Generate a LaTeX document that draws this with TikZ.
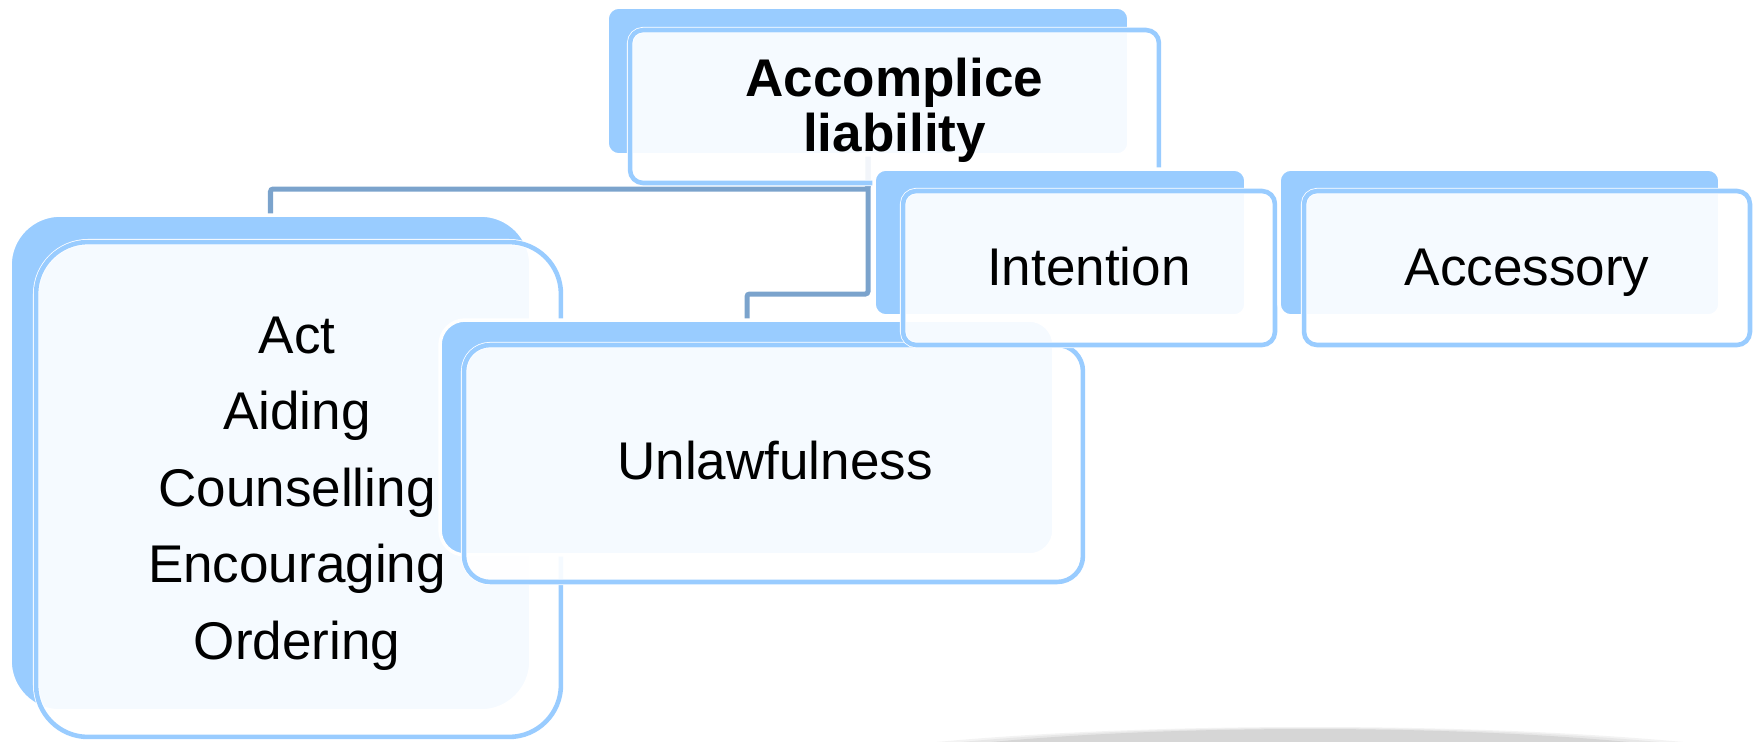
\documentclass[tikz,border=0pt]{standalone}
\usepackage{fontspec}
\setmainfont{Liberation Sans}
\definecolor{bblue}{HTML}{99CCFF}
\definecolor{conncol}{HTML}{7BA3CC}
\definecolor{shadowgray}{HTML}{D6D6D6}
\pgfdeclarelayer{bg}
\pgfsetlayers{bg,main}
\begin{document}
\begin{tikzpicture}[x=0.02cm,y=-0.02cm,
  backbox/.style={fill=bblue, draw=white, line width=2pt, inner sep=0, outer sep=0},
  frontbox/.style={fill=white, fill opacity=0.9, draw=white, line width=0.45pt, double=bblue, double distance=2.6pt, inner sep=0, outer sep=0},
  conn/.style={draw=conncol, line width=2.85pt, rounded corners=1.5pt},
  lbl/.style={font=\fontsize{30.2pt}{43.5pt}\selectfont, inner sep=0, align=center, text=black, text opacity=1}]
\useasboundingbox (0,0) rectangle (1755,741);
% Accomplice liability
\node[backbox, rounded corners=6.8pt, minimum width=10.44cm, minimum height=2.96cm] (accB) at (868,81) {};
\node[frontbox, rounded corners=7.4pt, minimum width=10.58cm, minimum height=3.06cm] (acc) at (894.5,106.5) {};
% Act
\node[backbox, rounded corners=28.5pt, minimum width=10.42cm, minimum height=9.92cm] (actB) at (270.5,463) {};
\node[frontbox, rounded corners=29.6pt, minimum width=10.5cm, minimum height=9.9cm] (act) at (298.5,489.5) {};
% Unlawfulness
\node[backbox, rounded corners=14.2pt, minimum width=12.28cm, minimum height=4.7cm] (unlB) at (747,437.5) {};
\node[frontbox, rounded corners=14.8pt, minimum width=12.38cm, minimum height=4.74cm] (unl) at (773.5,463.5) {};
% Intention
\node[backbox, rounded corners=6.8pt, minimum width=7.44cm, minimum height=2.94cm] (intB) at (1060,242.5) {};
\node[frontbox, rounded corners=7.4pt, minimum width=7.44cm, minimum height=3.08cm] (int) at (1089,268) {};
% Accessory
\node[backbox, rounded corners=6.8pt, minimum width=8.82cm, minimum height=2.94cm] (acsB) at (1499.5,242.5) {};
\node[frontbox, rounded corners=7.4pt, minimum width=8.92cm, minimum height=3.08cm] (acs) at (1527,268) {};
% texts
\node[lbl, font=\bfseries\fontsize{30.2pt}{31.3pt}\selectfont, anchor=north] (accT) at (894.5,58) {Accomplice\\liability};
\node[lbl, anchor=north] (actT) at (297,316.5) {Act\\Aiding\\Counselling\\Encouraging\\Ordering};
\node[lbl, anchor=base] (unlT) at (775,479) {Unlawfulness};
\node[lbl, anchor=base] (intT) at (1089,285) {Intention};
\node[lbl, anchor=base] (acsT) at (1527,285) {Accessory};
% connectors and shadow behind
\coordinate (j1) at (0,189);
\coordinate (j2) at (0,294);
\begin{pgfonlayer}{bg}
  \begin{scope}
    \clip (0,0) rectangle (1755,741);
    \fill[shadowgray!30] (1310,791) ellipse [x radius=580, y radius=64];
    \fill[shadowgray!60] (1310,791) ellipse [x radius=555, y radius=63];
    \fill[shadowgray] (1310,791) ellipse [x radius=520, y radius=62];
  \end{scope}
  \draw[conn] (accB.south) -- (accB.south |- j1) -| (actB.north);
  \draw[conn] (accB.south) -- (accB.south |- j2) -| (unlB.north);
\end{pgfonlayer}
\end{tikzpicture}
\end{document}
